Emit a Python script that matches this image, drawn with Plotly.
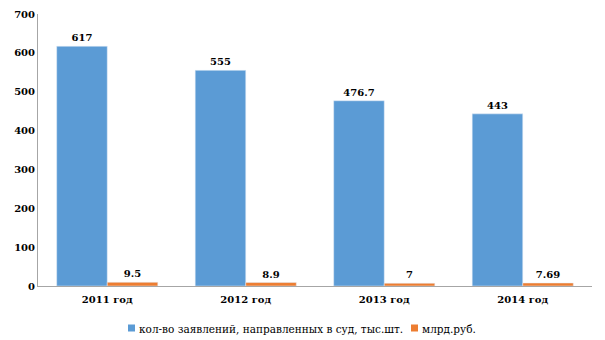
import plotly.graph_objects as go

years = ["2011 год", "2012 год", "2013 год", "2014 год"]
claims = [617, 555, 476.7, 443]
claims_text = ["617", "555", "476.7", "443"]
amount = [9.5, 8.9, 7, 7.69]
amount_text = ["9.5", "8.9", "7", "7.69"]
series_names = ["кол-во заявлений, направленных в суд, тыс.шт.", "млрд.руб."]
series_colors = ["#5B9BD5", "#ED7D31"]

serif = "DejaVu Serif"
W, H = 605, 340
ML, MR, MT, MB = 38, 13, 14, 54
pw, ph = W - ML - MR, H - MT - MB

fig = go.Figure()
for vals, txt, name, col in [(claims, claims_text, series_names[0], series_colors[0]),
                             (amount, amount_text, series_names[1], series_colors[1])]:
    fig.add_trace(go.Bar(
        x=years, y=vals, name=name, marker_color=col,
        text=txt, textposition="outside",
        textfont=dict(family=serif, size=10, color="#000000", weight="bold"),
        cliponaxis=False, showlegend=False,
    ))

# compact legend row below the axis
def px_x(p):
    return (p - ML) / pw

def px_y(p):
    return (H - MB - p) / ph

legend_items = [(128, series_names[0], series_colors[0]), (411, series_names[1], series_colors[1])]
for x0, name, col in legend_items:
    fig.add_shape(type="rect", xref="paper", yref="paper",
                  x0=px_x(x0), x1=px_x(x0 + 7), y0=px_y(331.5), y1=px_y(324.5),
                  fillcolor=col, line_width=0)
    fig.add_annotation(xref="paper", yref="paper", x=px_x(x0 + 9), y=px_y(328.5),
                       xanchor="left", yanchor="middle", showarrow=False, text=name,
                       font=dict(family=serif, size=10.5, color="#000000"))

fig.update_layout(
    width=W, height=H,
    margin=dict(l=ML, r=MR, t=MT, b=MB, autoexpand=False),
    barmode="group", bargap=0.27, bargroupgap=0,
    plot_bgcolor="white", paper_bgcolor="white",
    font=dict(family=serif, color="#000000"),
)
fig.update_xaxes(showline=True, linecolor="#A6A6A6", linewidth=1,
                 ticks="", ticklabelstandoff=4, automargin=False,
                 tickfont=dict(family=serif, size=10, color="#000000", weight="bold"))
fig.update_yaxes(range=[0, 700], dtick=100, showgrid=False, zeroline=False,
                 showline=True, linecolor="#A6A6A6", linewidth=1, ticks="",
                 automargin=False,
                 tickfont=dict(family=serif, size=10, color="#000000", weight="bold"))

fig.write_html("out.html")
